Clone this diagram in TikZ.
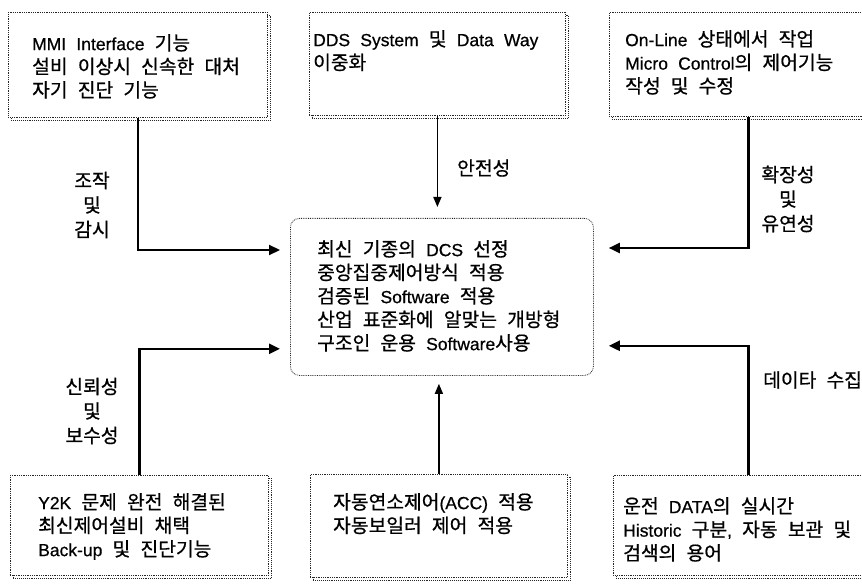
\documentclass[tikz,border=0pt]{standalone}
\usepackage{fontspec}
\setmainfont[WordSpace=2.1, FakeBold=0.6]{Liberation Sans}
\newfontfamily\krfont[Scale=1.10, FakeBold=0.7]{Noto Sans CJK KR}
\XeTeXinterchartokenstate=1
\newXeTeXintercharclass\krclass
\newcount\krcnt
\krcnt="AC00
\loop
  \XeTeXcharclass\krcnt=\krclass
  \ifnum\krcnt<"D7A3 \advance\krcnt by 1
\repeat
\XeTeXinterchartoks 0 \krclass = {\begingroup\krfont}
\XeTeXinterchartoks 4095 \krclass = {\begingroup\krfont}
\XeTeXinterchartoks \krclass 0 = {\endgroup}
\XeTeXinterchartoks \krclass 4095 = {\endgroup}
\usetikzlibrary{arrows.meta,shadows,calc}
\begin{document}
\begin{tikzpicture}[x=1pt,y=-1pt,
  box/.style={draw=black!85, densely dotted, line width=0.8pt, fill=white,
    copy shadow={shadow xshift=3pt, shadow yshift=-3pt, draw=black!85, densely dotted, line width=0.9pt},
    inner sep=0pt, anchor=north west},
  cbox/.style={draw=black!85, densely dotted, line width=0.8pt, rounded corners=9pt,
    inner sep=0pt, anchor=north west},
  txt/.style={anchor=north west, inner sep=0pt, align=left, font=\fontsize{17.5}{23.5}\selectfont},
  lbl/.style={inner sep=0pt, align=center, font=\fontsize{17.5}{24.5}\selectfont},
  thick arrow/.style={line width=2.2pt, -{Triangle[length=11pt,width=10pt]}},
  thin arrow/.style={line width=1.4pt, -{Triangle[length=10pt,width=8pt]}}
]
\useasboundingbox[fill=white] (0,0) rectangle (862,588);

% boxes
\node[box, minimum width=259pt, minimum height=105pt] (tl) at (8,12) {};
\node[box, minimum width=256pt, minimum height=103pt] (tm) at (309,12) {};
\node[box, minimum width=278pt, minimum height=104pt] (tr) at (609,12) {};
\node[cbox, minimum width=303pt, minimum height=157pt] (c) at (290,218) {};
\node[box, minimum width=258pt, minimum height=100pt] (bl) at (10,475) {};
\node[box, minimum width=257pt, minimum height=103pt] (bm) at (310,474) {};
\node[box, minimum width=270pt, minimum height=100pt] (br) at (613,475) {};

% box texts
\node[txt] (tlt) at (32,34) {MMI Interface 기능\\설비 이상시 신속한 대처\\자기 진단 기능};
\node[txt] (tmt) at (313,30) {DDS System 및 Data Way\\이중화};
\node[txt] (trt) at (625,30) {On-Line 상태에서 작업\\Micro Control의 제어기능\\작성 및 수정};
\node[txt] (ct) at (317,240) {최신 기종의 DCS 선정\\중앙집중제어방식 적용\\검증된 Software 적용\\산업 표준화에 알맞는 개방형\\구조인 운용 Software사용};
\node[txt] (blt) at (38,493) {Y2K 문제 완전 해결된\\최신제어설비 채택\\Back-up 및 진단기능};
\node[txt] (bmt) at (333,493) {자동연소제어(ACC) 적용\\자동보일러 제어 적용};
\node[txt] (brt) at (623,497) {운전 DATA의 실시간\\Historic 구분, 자동 보관 및\\검색의 용어};

% connectors
\draw[thick arrow, shorten >=10pt] (tl.south) |- ([yshift=-32pt]c.north west);
\draw[thick arrow, shorten >=10pt] (bl.north) |- ([yshift=27pt]c.south west);
\draw[thick arrow, shorten >=15pt] (tr.south) |- ([yshift=-30pt]c.north east);
\draw[thick arrow, shorten >=15pt] (br.north) |- ([yshift=30pt]c.south east);
\draw[thin arrow, shorten >=11pt] (tm.south) -- (tm.south |- c.north);
\draw[thin arrow, shorten >=8pt] (bm.north) -- (bm.north |- c.south);

% connector labels
\node[lbl] (l1) at (92,205) {조작\\및\\감시};
\node[lbl] (l2) at (92,411) {신뢰성\\및\\보수성};
\node[lbl] (l3) at (788,199) {확장성\\및\\유연성};
\node[lbl, anchor=west] (l4) at (457,168) {안전성};
\node[lbl, anchor=west] (l5) at (763,380) {데이타 수집};
\end{tikzpicture}
\end{document}
